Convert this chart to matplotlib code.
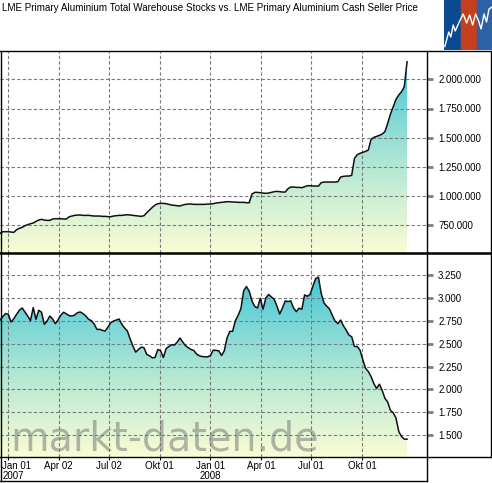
import numpy as np
import pandas as pd
import matplotlib
matplotlib.use("Agg")
import matplotlib.pyplot as plt
import matplotlib.dates as mdates
import matplotlib.transforms as mtransforms
from matplotlib.colors import LinearSegmentedColormap
from matplotlib.lines import Line2D
from matplotlib.patches import Rectangle
from matplotlib.ticker import FixedLocator, FuncFormatter

# ---------------- data ----------------
start_date = "2006-12-17"
step = "5D"

stocks = [678500, 692800, 692800, 692800, 690000, 687100, 710000, 721400, 730000, 744300,
          752900, 761400, 767200, 781500, 792900, 798600, 792900, 790000, 790000, 801500,
          804300, 804300, 804300, 801500, 801500, 821500, 827200, 832900, 835800, 835800,
          832900, 832900, 832900, 830100, 827200, 827200, 827200, 824400, 824400, 821500,
          821500, 827200, 830100, 832900, 832900, 835800, 838700, 835800, 832900, 830100,
          827200, 824400, 830100, 855800, 878700, 901600, 921600, 933000, 935900, 935900,
          933000, 927300, 921600, 918700, 915900, 913000, 921600, 927300, 930200, 930200,
          927300, 927300, 927300, 927300, 927300, 930200, 930200, 933000, 938800, 941600,
          944500, 947300, 950200, 950200, 947300, 947300, 944500, 944500, 944500, 941600,
          941600, 1016000, 1030300, 1030300, 1027400, 1024600, 1021700, 1024600, 1030300, 1036000,
          1038900, 1036000, 1033100, 1033100, 1061700, 1076000, 1076000, 1073200, 1073200, 1070300,
          1078900, 1087500, 1087500, 1084600, 1084600, 1084600, 1113200, 1118900, 1118900, 1118900,
          1118900, 1118900, 1121800, 1161800, 1167600, 1170400, 1170400, 1176100, 1322000, 1353500,
          1364900, 1373500, 1382100, 1393500, 1485000, 1502200, 1510800, 1519300, 1530800, 1550800,
          1622300, 1702400, 1765300, 1828200, 1865400, 1894000, 1936900, 2151400]

price = [2759, 2796, 2829, 2822, 2737, 2774, 2822, 2866, 2891, 2847,
         2803, 2752, 2895, 2767, 2866, 2844, 2712, 2748, 2803, 2770,
         2719, 2763, 2814, 2844, 2825, 2807, 2803, 2814, 2840, 2847,
         2829, 2803, 2767, 2752, 2715, 2657, 2657, 2646, 2639, 2683,
         2730, 2748, 2759, 2770, 2712, 2672, 2639, 2551, 2474, 2408,
         2437, 2463, 2456, 2382, 2368, 2346, 2349, 2437, 2423, 2349,
         2448, 2470, 2489, 2485, 2518, 2562, 2518, 2478, 2456, 2437,
         2426, 2386, 2368, 2360, 2357, 2357, 2371, 2430, 2426, 2423,
         2371, 2423, 2565, 2635, 2635, 2752, 2811, 2884, 3078, 3126,
         3074, 2968, 2906, 2891, 2997, 2877, 3001, 3038, 3012, 2986,
         2913, 2825, 2891, 2968, 2961, 2968, 2891, 2851, 2888, 2877,
         3034, 3019, 3041, 3129, 3213, 3228, 3049, 2946, 2910, 2880,
         2811, 2748, 2719, 2759, 2697, 2650, 2595, 2576, 2470, 2470,
         2430, 2327, 2232, 2196, 2141, 2064, 2009, 2057, 1991, 1903,
         1862, 1771, 1745, 1687, 1540, 1485, 1456, 1456]

tick_dates = ["2007-01-01", "2007-04-02", "2007-07-02", "2007-10-01",
              "2008-01-01", "2008-04-01", "2008-07-01", "2008-10-01"]
tick_labels = ["Jan 01\n2007", "Apr 02", "Jul 02", "Okt 01",
               "Jan 01\n2008", "Apr 01", "Jul 01", "Okt 01"]
stock_ticks = [750000, 1000000, 1250000, 1500000, 1750000, 2000000]
price_ticks = [1500, 1750, 2000, 2250, 2500, 2750, 3000, 3250]

title = "LME Primary Aluminium Total Warehouse Stocks vs. LME Primary Aluminium Cash Seller Price"
watermark = "markt-daten.de"

# ---------------- figure ----------------
W, H = 492, 483
plt.rcParams['font.family'] = ['Liberation Sans', 'DejaVu Sans']
fig = plt.figure(figsize=(W / 100, H / 100), dpi=100)
fig.patch.set_facecolor("white")

def fx(px):
    return px / W

def fy(py):
    return 1 - py / H

ax1 = fig.add_axes([0, fy(253), fx(427), fy(50.7) - fy(253)])
ax2 = fig.add_axes([0, fy(457.3), fx(427), fy(253) - fy(457.3)], sharex=ax1)

dates = pd.date_range(start_date, periods=len(price), freq=step)
xd = mdates.date2num(dates.to_pydatetime())
xlim = (mdates.date2num(pd.Timestamp("2006-12-17")), mdates.date2num(pd.Timestamp("2009-01-26")))

cmap = LinearSegmentedColormap.from_list(
    "grad", [(0.0, "#fafcd4"), (0.45, "#b4e8d4"), (1.0, "#44c6d8")])

grid_kw = dict(color="#7a7a7a", linewidth=0.8, linestyle=(0, (3, 2)))

def panel(ax, values, ylim, ticks):
    values = np.asarray(values, dtype=float)
    ax.set_xlim(*xlim)
    ax.set_ylim(*ylim)
    poly = ax.fill_between(xd, values, ylim[0], facecolor="none", linewidth=0, zorder=1)
    grad = np.linspace(0, 1, 256).reshape(-1, 1)
    im = ax.imshow(grad, extent=[xd[0], xd[-1], ylim[0], values.max()], origin="lower",
                   aspect="auto", cmap=cmap, zorder=1, interpolation="bilinear")
    im.set_clip_path(poly.get_paths()[0], transform=ax.transData)
    ax.set_xlim(*xlim)
    ax.set_ylim(*ylim)
    ax.plot(xd, values, color="#111111", linewidth=1.1, zorder=4)
    for t in ticks:
        ax.axhline(t, zorder=3, **grid_kw)
    for d in tick_dates:
        ax.axvline(mdates.date2num(pd.Timestamp(d)), zorder=3, **grid_kw)
    ax.yaxis.tick_right()
    ax.yaxis.set_major_locator(FixedLocator(ticks))
    ax.yaxis.set_major_formatter(FuncFormatter(lambda v, p: f"{v:,.0f}".replace(",", ".")))
    ax.tick_params(axis="y", direction="out", length=4.5, width=2.0, color="#808080",
                   pad=3.5, labelsize=7, labelcolor="black")
    for s in ax.spines.values():
        s.set_visible(False)

panel(ax1, stocks, (510000, 2246000), stock_ticks)
panel(ax2, price, (1258, 3492), price_ticks)

ax1.tick_params(axis="x", bottom=False, labelbottom=False)
ax2.set_xticks([mdates.date2num(pd.Timestamp(d)) for d in tick_dates])
ax2.set_xticklabels(tick_labels, fontsize=7, linespacing=0.95)
ax2.tick_params(axis="x", direction="out", length=2.5, width=0.8, color="black", pad=0.3)
lbls = ax2.get_xticklabels()
lbls[0].set_horizontalalignment("left")
lbls[0].set_multialignment("left")
lbls[0].set_transform(lbls[0].get_transform() + mtransforms.ScaledTranslation(-6 / 100, 0, fig.dpi_scale_trans))

ax2.text(0.024, 0.035, watermark, transform=ax2.transAxes, fontsize=28.5,
         color="#7a7a7a", alpha=0.55, zorder=3.5, family="DejaVu Sans", ha="left", va="baseline")

# title
fig.text(fx(2), fy(8), title, fontsize=7.1, ha="left", va="center")

# frame lines
def fline(x0, y0, x1, y1, lw=1.0):
    fig.add_artist(Line2D([fx(x0), fx(x1)], [fy(y0), fy(y1)], color="black", linewidth=lw,
                          transform=fig.transFigure, zorder=10))

fline(0, 50.7, 492, 50.7)
fline(0, 253, 492, 253, lw=1.8)
fline(0, 457.3, 491, 457.3)
fline(0, 480.7, 427, 480.7)
fline(427, 50.7, 427, 480.7)
fline(491, 50.7, 491, 457.3)
fline(0.5, 50.7, 0.5, 480.7)

# logo
lax = fig.add_axes([fx(444.3), fy(50), fx(492) - fx(444.3), fy(0) - fy(50)])
lax.set_xlim(0, 48)
lax.set_ylim(0, 50)
lax.axis("off")
lax.add_patch(Rectangle((0, 0), 15.5, 50, color="#0b4a8e"))
lax.add_patch(Rectangle((17.2, 0), 14.5, 50, color="#c4401f"))
lax.add_patch(Rectangle((33.2, 0), 15, 50, color="#2c62a5"))
zx = [0.5, 4.5, 6.5, 9, 11, 15.5, 19, 22.5, 25.5, 28.5, 31.5, 34.5, 37, 40, 42.5, 45, 48]
zy = [3.5, 18, 13, 25, 19, 29, 36, 27, 35, 25, 36, 29, 21, 36, 28, 41, 43]
lax.plot(zx, zy, color="white", linewidth=1.0)

fig.savefig("out.png", dpi=100, facecolor="white")
